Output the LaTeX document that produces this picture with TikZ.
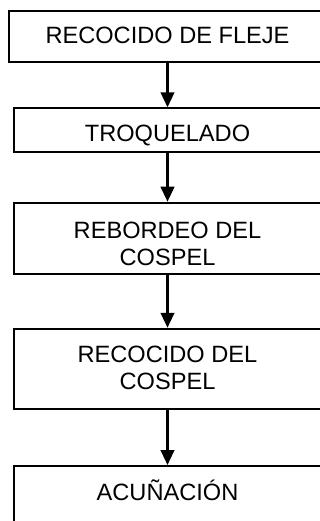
\documentclass[tikz,border=0pt]{standalone}
\usepackage{fontspec}
\setmainfont{Liberation Sans}
\usetikzlibrary{arrows.meta}
\begin{document}
\begin{tikzpicture}[x=1pt,y=1pt,
  stepbox/.style={draw=black, line width=2pt, rectangle, inner sep=0pt,
    align=center, font=\fontsize{23.6}{27.3}\selectfont, text depth=0pt},
  arr/.style={line width=2.3pt, -{Triangle[width=13.6pt,length=15pt]}}]
\useasboundingbox (0,0) rectangle (320,-521);
\clip (0,0) rectangle (320,-521);
\node[stepbox, minimum width=317pt, minimum height=51.3pt, text height=14.2pt] (b1) at (167.5,-36.6) {RECOCIDO DE FLEJE};
\node[stepbox, minimum width=306.4pt, minimum height=43.4pt, text height=23.4pt] (b2) at (167.5,-130) {TROQUELADO};
\node[stepbox, minimum width=306.4pt, minimum height=71.6pt, text height=53.7pt] (b3) at (167.5,-238.5) {REBORDEO DEL\\COSPEL};
\node[stepbox, minimum width=306.4pt, minimum height=80.3pt, text height=41.3pt] (b4) at (167.5,-368.9) {RECOCIDO DEL\\COSPEL};
\node[stepbox, minimum width=306.4pt, minimum height=64pt, text height=5.8pt] (b5) at (167.5,-498) {ACUÑACIÓN};
\draw[arr] (b1.south) -- (b2.north);
\draw[arr] (b2.south) -- (b3.north);
\draw[arr] (b3.south) -- (b4.north);
\draw[arr] (b4.south) -- (b5.north);
\end{tikzpicture}
\end{document}
